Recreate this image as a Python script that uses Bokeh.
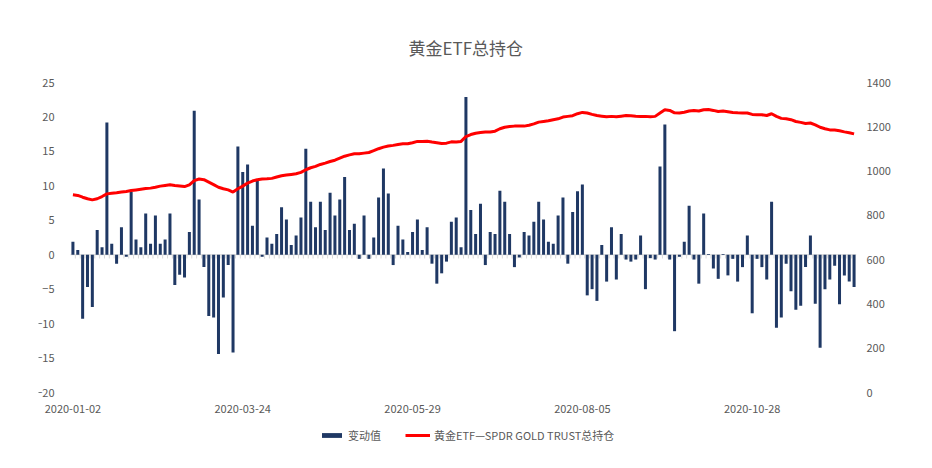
from bokeh.plotting import figure
from bokeh.models import (Range1d, LinearAxis, FixedTicker, Legend,
                          LegendItem)
from bokeh.embed import file_html
from bokeh.resources import INLINE

# Data (one entry per category on the x axis)
tick_pos = [0, 35, 70, 105, 140]
tick_dates = ['2020-01-02', '2020-03-24', '2020-05-29', '2020-08-05', '2020-10-28']

changes = [1.9, 0.7, -9.3, -4.7, -7.6, 3.6, 1.1, 19.2, 1.6, -1.3,
           4.0, -0.3, 9.1, 2.2, 1.1, 6.0, 1.6, 5.7, 1.6, 2.2,
           6.0, -4.4, -2.9, -3.3, 3.3, 20.9, 8.0, -1.8, -8.9, -9.1,
           -14.4, -6.2, -1.5, -14.2, 15.7, 12.0, 13.1, 4.2, 10.7, -0.3,
           2.5, 1.6, 3.0, 6.9, 5.1, 1.4, 2.8, 5.4, 15.4, 7.7,
           4.0, 7.7, 3.6, 9.0, 5.7, 8.0, 11.3, 3.6, 4.5, -0.6,
           5.7, -0.6, 2.5, 8.3, 12.5, 8.9, -1.5, 4.2, 2.2, 0.4,
           3.3, 5.1, 0.7, 4.0, -1.3, -4.2, -2.7, -1.0, 4.8, 5.4,
           1.1, 22.9, 6.5, 3.0, 7.4, -1.5, 3.3, 3.0, 9.3, 7.7,
           3.0, -1.8, -0.4, 3.3, 2.8, 4.8, 7.7, 5.1, 1.9, 1.6,
           5.7, 8.3, -1.3, 6.2, 9.2, 10.2, -5.9, -5.0, -6.7, 1.4,
           -3.9, 4.0, -3.6, 3.0, -0.7, -1.0, -0.7, 2.8, -5.0, -0.5,
           -0.7, 12.8, 18.9, -0.7, -11.1, -0.3, 1.9, 7.1, -0.7, -4.2,
           6.0, 0.1, -2.0, -3.5, 0.1, -3.0, -0.6, -3.9, -1.8, 2.8,
           -8.5, -0.6, -1.8, -3.6, 7.7, -10.6, -9.1, -1.3, -5.3, -8.0,
           -7.4, -1.8, 2.8, -7.1, -13.5, -5.0, -3.6, -1.6, -7.2, -3.0,
           -3.9, -4.7]

holdings = [893, 890, 882, 875, 870, 875, 885, 897, 900, 902,
            905, 908, 912, 915, 918, 921, 923, 927, 932, 935,
            938, 935, 933, 930, 938, 957, 964, 961, 950, 939,
            927, 920, 915, 905, 920, 932, 946, 955, 961, 964,
            965, 967, 973, 979, 982, 985, 988, 994, 1006, 1015,
            1021, 1030, 1036, 1043, 1049, 1058, 1067, 1073, 1078, 1078,
            1081, 1084, 1092, 1101, 1108, 1113, 1116, 1120, 1123, 1123,
            1128, 1134, 1134, 1135, 1131, 1128, 1125, 1126, 1132, 1131,
            1134, 1156, 1165, 1171, 1174, 1176, 1176, 1180, 1191, 1198,
            1201, 1203, 1203, 1203, 1207, 1213, 1221, 1224, 1227, 1232,
            1236, 1244, 1247, 1250, 1259, 1265, 1262, 1256, 1251, 1248,
            1245, 1247, 1245, 1248, 1251, 1250, 1248, 1247, 1247, 1245,
            1247, 1262, 1277, 1274, 1263, 1262, 1266, 1271, 1274, 1271,
            1277, 1278, 1274, 1269, 1271, 1268, 1265, 1263, 1262, 1262,
            1256, 1254, 1254, 1251, 1259, 1247, 1238, 1236, 1232, 1224,
            1220, 1215, 1217, 1209, 1198, 1191, 1186, 1185, 1182, 1177,
            1173, 1168]

idx = list(range(len(changes)))
n = len(changes)

FONT = "Noto Sans CJK SC"
GREY = "#595959"

# value area is 786 x 310 px; the frame is stretched 32 px to the left,
# 8 px up and 60 px down so axis labels, dates and legend sit inside it
cat_px = 786.0 / n
x_lo = -0.5 - 32 / cat_px
pad_lo = 60.0 / 310
pad_hi = 8.0 / 310
y_lo, y_hi = -20 - pad_lo * 45, 25 + pad_hi * 45
h_lo, h_hi = 0 - pad_lo * 1400, 1400 + pad_hi * 1400

p = figure(frame_width=818, frame_height=378, output_backend="svg",
           toolbar_location=None,
           x_range=Range1d(x_lo, n - 0.5), y_range=Range1d(y_lo, y_hi),
           min_border_left=38, min_border_right=56, min_border_top=74,
           min_border_bottom=0, outline_line_color=None)

p.title.text = "黄金ETF总持仓"
p.title.align = "left"
p.title.offset = 370
p.title.text_font = FONT
p.title.text_font_size = "17px"
p.title.text_font_style = "normal"
p.title.text_color = GREY
p.title.standoff = 29

p.extra_y_ranges = {"hold": Range1d(h_lo, h_hi)}
ax_r = LinearAxis(y_range_name="hold", ticker=FixedTicker(ticks=list(range(0, 1401, 200))))
p.add_layout(ax_r, "right")

p.yaxis[0].ticker = FixedTicker(ticks=list(range(-20, 26, 5)))
p.yaxis[0].fixed_location = -0.5
p.xaxis.ticker = FixedTicker(ticks=tick_pos)
p.xaxis.major_label_overrides = dict(zip(tick_pos, tick_dates))
p.xaxis.fixed_location = -20

for ax in p.xaxis + p.yaxis:
    ax.axis_line_color = None
    ax.major_tick_line_color = None
    ax.minor_tick_line_color = None
    ax.major_label_text_font = FONT
    ax.major_label_text_font_size = "11px"
    ax.major_label_text_color = GREY
    ax.major_label_standoff = 10
p.xaxis.major_label_standoff = 6
ax_r.major_label_standoff = 4

p.xgrid.grid_line_color = None
p.ygrid.grid_line_color = None

# zero baseline with small category ticks
p.segment(x0=[-0.5], x1=[n - 0.5], y0=[0], y1=[0], line_color="#d9d9d9", line_width=1)
p.segment(x0=[i + 0.5 for i in idx[:-1]], x1=[i + 0.5 for i in idx[:-1]],
          y0=0, y1=-0.55, line_color="#d9d9d9", line_width=1)

bars = p.vbar(x=idx, top=changes, width=0.62, fill_color="#1F3864",
              line_color=None)
line = p.line(x=idx, y=holdings, y_range_name="hold", line_color="#FF0000",
              line_width=3)

legend = Legend(items=[LegendItem(label="变动值", renderers=[bars]),
                       LegendItem(label="黄金ETF—SPDR GOLD TRUST总持仓", renderers=[line])],
                orientation="horizontal", location=(281, 9),
                label_text_font=FONT, label_text_font_size="11px",
                label_text_color=GREY, glyph_width=25, glyph_height=6,
                label_standoff=4, spacing=24, padding=0, margin=0,
                border_line_color=None, background_fill_alpha=0)
p.add_layout(legend, "center")

open("out.html", "w").write(file_html(p, INLINE))
